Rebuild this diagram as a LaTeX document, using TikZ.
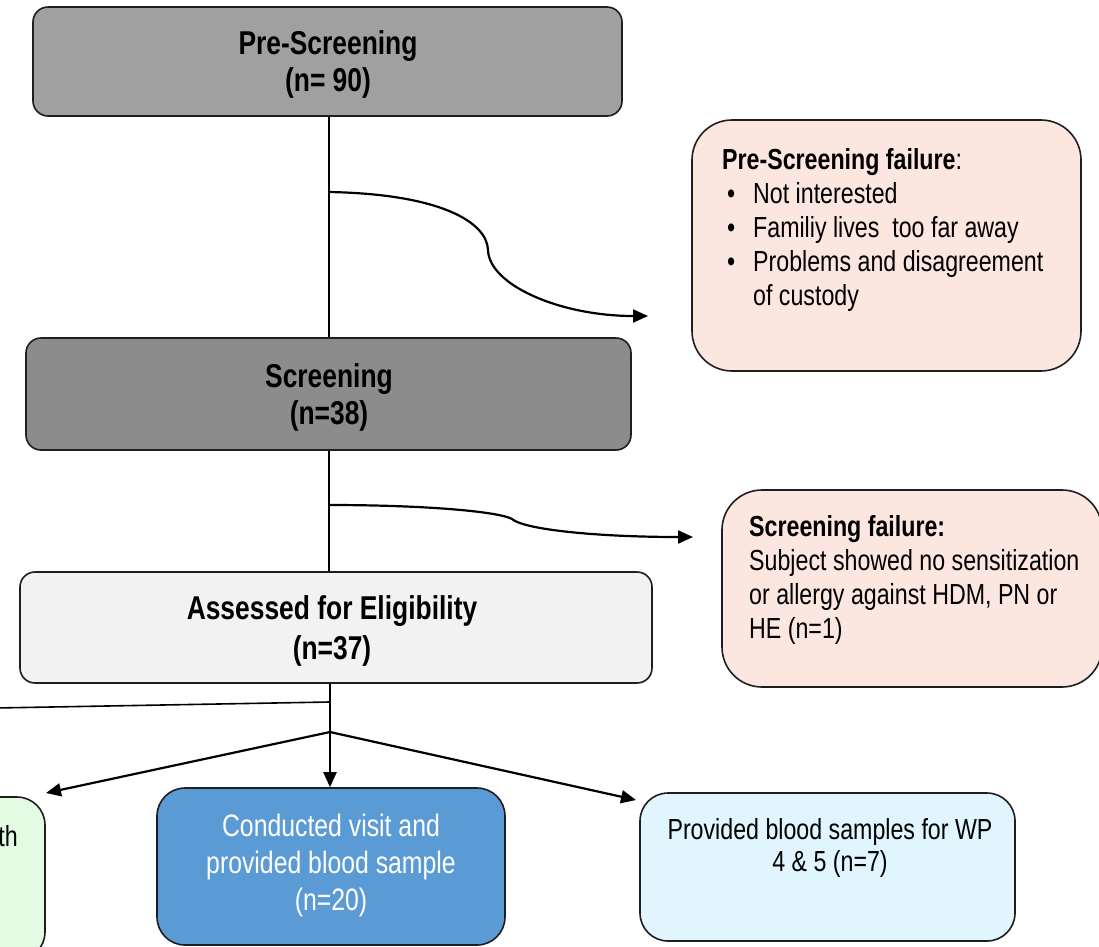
\documentclass[tikz,border=0pt]{standalone}
\usepackage{fontspec}
\setmainfont{Liberation Sans}[FakeStretch=0.8]
\usetikzlibrary{arrows.meta}
\definecolor{pregray}{HTML}{A0A0A0}
\definecolor{scrgray}{HTML}{8C8C8C}
\definecolor{assgray}{HTML}{F2F2F2}
\definecolor{failpink}{HTML}{FCE6E0}
\definecolor{condblue}{HTML}{5B9BD5}
\definecolor{provblue}{HTML}{E1F5FE}
\definecolor{leftgreen}{HTML}{E3FBE3}
\definecolor{edge}{HTML}{1E1E1E}
\newcommand{\bul}{\hspace*{5pt}\makebox[26pt][l]{•}}
\begin{document}
\begin{tikzpicture}[x=1pt,y=-1pt,
  box/.style={draw=edge, line width=1.6pt, inner sep=0pt},
  conn/.style={line width=2.2pt, draw=black},
  arr/.style={conn, -{Triangle[length=15pt,width=13pt]}},
  title/.style={font=\bfseries\fontsize{33}{37}\selectfont, align=center, inner sep=0pt},
  body/.style={font=\fontsize{29}{34}\selectfont, align=left, inner sep=0pt}]
\useasboundingbox (0,0) rectangle (1099,946);
\clip (0,0) rectangle (1099,946);

% boxes
\node[box, fill=pregray, rounded corners=15pt, minimum width=589pt, minimum height=109pt] (pre) at (327.5,61.5) {};
\node[title] (pretext) at (328,64) {Pre-Screening\\(n= 90)};

\node[box, fill=failpink, rounded corners=40pt, minimum width=389pt, minimum height=251pt] (pfail) at (886.5,245.5) {};
\node[body, anchor=north west] (pfailtext) at (722,148) {{\bfseries Pre-Screening failure}:\\
\bul Not interested\\
\bul Familiy lives\ \ too far away\\
\bul Problems and disagreement\\
\hspace*{31pt}of custody};

\node[box, fill=scrgray, rounded corners=15pt, minimum width=605pt, minimum height=112pt] (scr) at (328.5,394) {};
\node[title] (scrtext) at (329,397) {Screening\\(n=38)};

\node[box, fill=failpink, rounded corners=40pt, minimum width=380pt, minimum height=197pt] (sfail) at (912,588.5) {};
\node[body, anchor=north west] (sfailtext) at (749,515) {{\bfseries Screening failure:}\\
Subject showed no sensitization\\
or allergy against HDM, PN or\\
HE (n=1)};

\node[box, fill=assgray, rounded corners=15pt, minimum width=632pt, minimum height=111pt] (ass) at (336,627.5) {};
\node[title, font=\bfseries\fontsize{33}{40}\selectfont] (asstext) at (332,631) {Assessed for Eligibility\\(n=37)};

\node[box, fill=leftgreen, rounded corners=28pt, minimum width=245pt, minimum height=163pt] (green) at (-77.5,878.5) {};
\node[body, anchor=east] (greentext) at (18,836) {th};

\node[box, fill=condblue, rounded corners=28pt, minimum width=348pt, minimum height=157pt] (cond) at (331,866.5) {};
\node[font=\fontsize{31}{37}\selectfont, text=white, align=center, inner sep=0pt] (condtext) at (331,865) {Conducted visit and\\provided blood sample\\(n=20)};

\node[box, fill=provblue, rounded corners=28pt, minimum width=375pt, minimum height=148pt] (prov) at (827.5,867) {};
\node[font=\fontsize{29}{32}\selectfont, align=center, inner sep=0pt] (provtext) at (830,848) {Provided blood samples for WP\\4 \& 5 (n=7)};

% coordinates
\coordinate (spine) at (329,0);
\coordinate (b1) at (329,192);
\coordinate (e1) at (648,316);
\coordinate (b2) at (329,505);
\coordinate (e2) at (693,537);
\coordinate (l1) at (329,702);
\coordinate (l2) at (-5,708);
\coordinate (br) at (330,732);
\coordinate (gtip) at (46,793);
\coordinate (ptip) at (636,800);

% connectors
\draw[conn] (pre.south -| spine) -- (scr.north -| spine);
\draw[arr] (b1) .. controls (440,194) and (487,222) .. (488,250) .. controls (489,285) and (560,316) .. (e1);
\draw[conn] (scr.south -| spine) -- (ass.north -| spine);
\draw[arr] (b2) .. controls (430,505) and (500,512) .. (512,519) .. controls (525,530) and (600,537) .. (e2);
\draw[conn, line width=1.6pt] (l1) -- (l2);
\draw[arr] (ass.south -| br) -- (cond.north -| br);
\draw[arr] (br) -- (gtip);
\draw[arr] (br) -- (ptip);
\end{tikzpicture}
\end{document}
